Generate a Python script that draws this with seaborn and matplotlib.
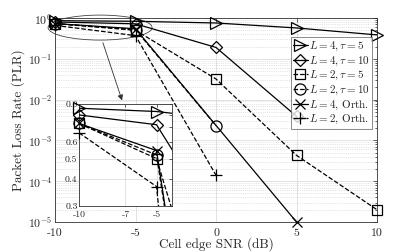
import numpy as np
import pandas as pd
import seaborn as sns
import matplotlib
matplotlib.use("Agg")
import matplotlib.pyplot as plt
from matplotlib.patches import Ellipse
from matplotlib.ticker import FixedLocator, FixedFormatter, NullFormatter, LogLocator

# ---------------- data ----------------
snr = [-10, -5, 0, 5, 10]
plr_L4_t5 = [0.86, 0.83, 0.755, 0.57, 0.385]
plr_L4_t10 = [0.80, 0.72, 0.19, 0.0039]
plr_L2_t5 = [0.73, 0.50, 0.032, 4.3e-4, 2.0e-5]
plr_L2_t10 = [0.73, 0.52, 2.3e-3]
snr_L4_orth = [-10, -5, 5]
plr_L4_orth = [0.73, 0.545, 1.0e-5]
plr_L2_orth = [0.66, 0.37, 1.4e-4]

labels = [r"$L = 4, \tau = 5$", r"$L = 4, \tau = 10$", r"$L = 2, \tau = 5$",
          r"$L = 2, \tau = 10$", r"$L = 4$, Orth.", r"$L = 2$, Orth."]

series = [
    (snr[:5], plr_L4_t5, ">", "-", 8.5),
    (snr[:4], plr_L4_t10, "D", "-", 6.5),
    (snr[:5], plr_L2_t5, "s", "--", 7),
    (snr[:3], plr_L2_t10, "o", "--", 8),
    (snr_L4_orth, plr_L4_orth, "x", "-", 7),
    (snr[:3], plr_L2_orth, "+", "--", 8),
]

sns.set_style("white")
plt.rcParams["font.family"] = ["cmr10", "DejaVu Serif"]
plt.rcParams["mathtext.fontset"] = "cm"
plt.rcParams["axes.unicode_minus"] = False
plt.rcParams["axes.formatter.use_mathtext"] = True

fig = plt.figure(figsize=(4.15, 2.52), dpi=100)
ax = fig.add_axes([55 / 415, 1 - 222 / 252, 322 / 415, 204 / 252])

for (xs, ys, mk, ls, ms), lab in zip(series, labels):
    sns.lineplot(x=xs, y=ys, ax=ax, color="k", marker=mk, linestyle=ls,
                 linewidth=0.9, markersize=ms, markerfacecolor="none",
                 markeredgecolor="k", markeredgewidth=0.9, label=lab,
                 clip_on=False, zorder=3)

ax.set_yscale("log")
ax.set_xlim(-10, 10)
ax.set_ylim(1e-5, 1)
ax.xaxis.set_major_locator(FixedLocator([-10, -5, 0, 5, 10]))
ax.xaxis.set_major_formatter(FixedFormatter(["-10", "-5", "0", "5", "10"]))
ax.yaxis.set_major_locator(FixedLocator([1e-5, 1e-4, 1e-3, 1e-2, 1e-1, 1]))
ax.yaxis.set_major_formatter(FixedFormatter([r"$10^{-5}$", r"$10^{-4}$", r"$10^{-3}$",
                                             r"$10^{-2}$", r"$10^{-1}$", r"$10^{0}$"]))
ax.yaxis.set_minor_locator(LogLocator(base=10, subs=np.arange(2, 10), numticks=20))
ax.yaxis.set_minor_formatter(NullFormatter())
ax.tick_params(which="both", direction="in", top=True, right=True, labelsize=8.5,
               length=3, width=0.5, pad=2)
ax.tick_params(axis="x", pad=5)
ax.tick_params(which="minor", length=1.5)
ax.grid(True, which="major", color="#dddddd", linewidth=0.6, linestyle="-")
ax.grid(True, which="minor", axis="y", color="#cccccc", linewidth=0.5, linestyle=":")
for s in ax.spines.values():
    s.set_linewidth(0.6)
    s.set_color("#333333")
ax.set_xlabel("Cell edge SNR (dB)", fontsize=9.5, labelpad=-1)
ax.set_ylabel("Packet Loss Rate (PLR)", fontsize=9.5, labelpad=2)

leg = ax.legend(loc="upper right", bbox_to_anchor=(0.985, 0.905), fontsize=8,
                frameon=True, fancybox=False, borderpad=0.2, labelspacing=0.12,
                handlelength=1.3, handletextpad=0.15, borderaxespad=0)
leg.get_frame().set_edgecolor("#555555")
leg.get_frame().set_linewidth(0.6)

# ellipse and arrow
ell = Ellipse((0.14, 0.953), 0.323, 0.1225, transform=ax.transAxes, fill=False,
              edgecolor="#444444", linewidth=0.6, clip_on=False, zorder=2)
ax.add_patch(ell)
ax.annotate("", xy=(0.211, 0.583), xytext=(0.146, 0.892), xycoords="axes fraction",
            arrowprops=dict(arrowstyle="-|>", color="#333333", lw=0.6,
                            mutation_scale=8))

# inset
ins = fig.add_axes([79 / 415, 1 - 206 / 252, 93 / 415, 102 / 252])
ins.set_facecolor("white")
for (xs, ys, mk, ls, ms) in series:
    sns.lineplot(x=xs, y=ys, ax=ins, color="k", linestyle=ls, linewidth=0.9,
                 legend=False, zorder=3)
    xi = [x for x in xs if x <= -5]
    yi = [y for x, y in zip(xs, ys) if x <= -5]
    sns.lineplot(x=xi, y=yi, ax=ins, color="k", marker=mk, linestyle="none",
                 markersize=ms, markerfacecolor="none", markeredgecolor="k",
                 markeredgewidth=0.9, legend=False, clip_on=False, zorder=4)
ins.set_yscale("log")
ins.set_xlim(-10, -4)
ins.set_ylim(0.3, 0.9)
ins.xaxis.set_major_locator(FixedLocator([-10, -7, -5]))
ins.xaxis.set_major_formatter(FixedFormatter(["-10", "-7", "-5"]))
ins.yaxis.set_major_locator(FixedLocator([0.3, 0.4, 0.5, 0.6, 0.9]))
ins.yaxis.set_major_formatter(FixedFormatter(["0.3", "0.4", "0.5", "0.6", "0.9"]))
ins.yaxis.set_minor_locator(FixedLocator([0.7, 0.8]))
ins.yaxis.set_minor_formatter(NullFormatter())
ins.tick_params(which="both", direction="in", top=True, right=True, labelsize=7,
                length=2, width=0.5, pad=1.5)
ins.tick_params(axis="x", pad=3)
ins.tick_params(axis="y", pad=1)
ins.grid(True, which="major", color="#dddddd", linewidth=0.6)
ins.grid(True, which="minor", axis="y", color="#cccccc", linewidth=0.5, linestyle=":")
for s in ins.spines.values():
    s.set_linewidth(0.6)
    s.set_color("#333333")
ins.set_xlabel("")
ins.set_ylabel("")

fig.savefig("out.png", dpi=100)
